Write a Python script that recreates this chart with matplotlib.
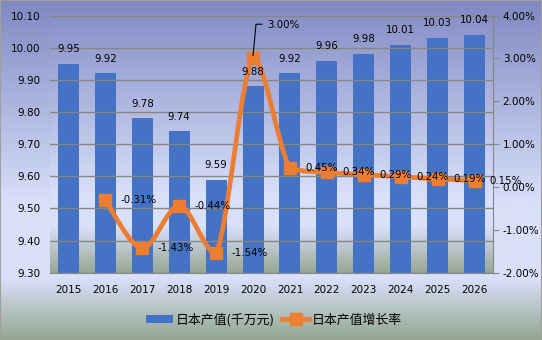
import numpy as np
import matplotlib
matplotlib.use('Agg')
import matplotlib.pyplot as plt
from matplotlib.path import Path
from matplotlib.patches import PathPatch, Patch, Rectangle
from matplotlib.lines import Line2D
from matplotlib.colors import LinearSegmentedColormap

# data
years = ['2015', '2016', '2017', '2018', '2019', '2020',
         '2021', '2022', '2023', '2024', '2025', '2026']
output = [9.95, 9.92, 9.78, 9.74, 9.59, 9.88, 9.92, 9.96, 9.98, 10.01, 10.03, 10.04]
growth_years = years[1:]
growth = [-0.31, -1.43, -0.44, -1.54, 3.00, 0.45, 0.34, 0.29, 0.24, 0.19, 0.15]

bar_color = '#4472C4'
line_color = '#ED7D31'
grid_color = '#868686'
num_font = 7.4
cjk = ['Noto Sans CJK SC', 'DejaVu Sans']

fig = plt.figure(figsize=(5.42, 3.40), dpi=100)

# background gradient for the figure
grad = LinearSegmentedColormap.from_list(
    'bg', [(0.0, '#8088C2'), (0.6, '#D8E0FA'), (0.82, '#D8E0FA'), (1.0, '#94A690')])
bg = fig.add_axes([0, 0, 1, 1], zorder=-5)
bg.imshow(np.linspace(0, 1, 256).reshape(-1, 1), cmap=grad, aspect='auto',
          extent=[0, 1, 0, 1])
bg.axis('off')
fig.patches.append(Rectangle((0, 0), 1, 1, transform=fig.transFigure, fill=False,
                             edgecolor='#A0A0A0', lw=1.5))

ax = fig.add_axes([0.0923, 0.198, 0.8173, 0.756])
ax.patch.set_visible(False)
pgrad = LinearSegmentedColormap.from_list(
    'pbg', [(0.0, '#8890C8'), (0.7, '#D8E0FA'), (0.82, '#D8E0FA'), (1.0, '#98A894')])
ax.imshow(np.linspace(0, 1, 256).reshape(-1, 1), cmap=pgrad, aspect='auto',
          extent=[0, 1, 0, 1], transform=ax.transAxes, zorder=0)

x = np.arange(len(years))
ax.bar(x, output, width=0.57, color=bar_color, zorder=2)
ax.set_xlim(-0.5, len(years) - 0.5)
ax.set_ylim(9.30, 10.10)
ax.set_yticks(np.arange(9.30, 10.101, 0.10))
ax.set_yticklabels([f'{v:.2f}' for v in np.arange(9.30, 10.101, 0.10)])
ax.yaxis.grid(True, color=grid_color, lw=1.0, zorder=1)
ax.set_axisbelow(False)
ax.set_xticks(x)
ax.set_xticklabels(years)
ax.tick_params(axis='y', length=0, pad=7, labelsize=7.5)
ax.tick_params(axis='x', length=0, pad=9, labelsize=7.5)
for s in ['top', 'left', 'right']:
    ax.spines[s].set_visible(False)
ax.spines['bottom'].set_color(grid_color)

ax2 = ax.twinx()
ax2.set_ylim(-2, 4)
ax2.set_yticks(np.arange(-2, 4.01, 1))
ax2.set_yticklabels([f'{v:.2f}%' for v in np.arange(-2, 4.01, 1)])
ax2.tick_params(axis='y', length=4, color=grid_color, pad=3, labelsize=7.5)
for s in ['top', 'left', 'bottom']:
    ax2.spines[s].set_visible(False)
ax2.spines['right'].set_color(grid_color)

# smoothed growth line: beziers through the points, handles kept inside each segment's y-range
gx = np.arange(1, len(years))
pts = np.column_stack([gx, growth]).astype(float)
verts = [pts[0]]
codes = [Path.MOVETO]
for i in range(len(pts) - 1):
    p0 = pts[i - 1] if i > 0 else pts[i]
    p1 = pts[i]
    p2 = pts[i + 1]
    p3 = pts[i + 2] if i + 2 < len(pts) else pts[i + 1]
    c1 = p1 + (p2 - p0) / 6
    c2 = p2 - (p3 - p1) / 6
    lo, hi = min(p1[1], p2[1]), max(p1[1], p2[1])
    c1[1] = np.clip(c1[1], lo, hi)
    c2[1] = np.clip(c2[1], lo, hi)
    verts += [c1, c2, p2]
    codes += [Path.CURVE4] * 3
ax2.add_patch(PathPatch(Path(verts, codes), fill=False, edgecolor=line_color,
                        lw=3.4, zorder=3, capstyle='round', joinstyle='round'))
ax2.plot(gx, growth, ls='none', marker='s', ms=9, color=line_color, zorder=4)

# labels
for xi, v in zip(x, output):
    ax2.annotate(f'{v:.2f}', (xi, v), xycoords=ax.transData, xytext=(0, 7),
                 textcoords='offset points', ha='center', va='bottom',
                 fontsize=num_font, zorder=6)
for xi, v in zip(gx, growth):
    if v == max(growth):
        ax2.annotate(f'{v:.2f}%', (xi, v), xytext=(10, 24),
                     textcoords='offset points', ha='left', va='center',
                     fontsize=num_font, zorder=6)
        ax2.plot([xi, xi + 0.08, xi + 0.24], [v + 0.07, v + 0.8, v + 0.8],
                 color='black', lw=0.8, zorder=5)
    else:
        ax2.annotate(f'{v:.2f}%', (xi, v), xytext=(11, 0),
                     textcoords='offset points', ha='left', va='center',
                     fontsize=num_font, zorder=6)

handles = [Patch(facecolor=bar_color, edgecolor='none'),
           Line2D([], [], color=line_color, lw=3.4, marker='s', ms=9)]
fig.legend(handles, ['日本产值(千万元)', '日本产值增长率'], loc='center',
           bbox_to_anchor=(0.505, 20 / 340), ncol=2, frameon=False,
           prop={'family': cjk, 'size': 9.3}, handlelength=2.1,
           handletextpad=0.2, columnspacing=0.6, handleheight=0.6)

fig.savefig('out.png', dpi=100)
